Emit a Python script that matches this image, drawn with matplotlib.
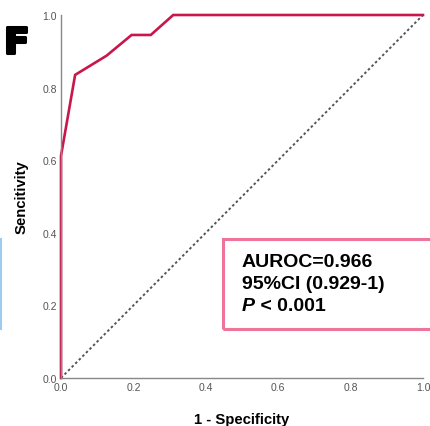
import matplotlib
matplotlib.use("Agg")
import matplotlib.pyplot as plt
import matplotlib.patheffects as pe
from matplotlib.patches import Rectangle
from matplotlib.lines import Line2D

plt.rcParams['font.family'] = ['Liberation Sans', 'DejaVu Sans']

# ROC curve points
fpr = [0.0, 0.0, 0.039, 0.126, 0.195, 0.248, 0.31, 1.0]
tpr = [0.0, 0.612, 0.835, 0.888, 0.945, 0.945, 1.0, 1.0]

ticks = [0.0, 0.2, 0.4, 0.6, 0.8, 1.0]
tick_labels = ["0.0", "0.2", "0.4", "0.6", "0.8", "1.0"]

auroc_text = "AUROC=0.966"
ci_text = "95%CI (0.929-1)"
p_text = " < 0.001"

fig = plt.figure(figsize=(4.30, 4.27), dpi=100)
ax = fig.add_axes([61/430, 1 - 379/427, 362/430, 363/427])

ax.plot([0, 1], [0, 1], linestyle=(0, (1.3, 1.3)), color='#555555', lw=1.4)
ax.plot(fpr, tpr, color='#c8174a', lw=1.9, solid_joinstyle='miter', clip_on=False)

ax.set_xlim(0, 1)
ax.set_ylim(0, 1)
ax.set_xticks(ticks)
ax.set_xticklabels(tick_labels)
ax.set_yticks(ticks)
ax.set_yticklabels(tick_labels)
ax.tick_params(length=0, labelsize=7.5, labelcolor='#555555', pad=3)
for s in ['top', 'right']:
    ax.spines[s].set_visible(False)
for s in ['left', 'bottom']:
    ax.spines[s].set_color('#888888')
    ax.spines[s].set_linewidth(1.0)

ax.set_xlabel("1 - Specificity", fontsize=10.7, fontweight='bold', labelpad=14)
ax.set_ylabel("Sencitivity", fontsize=10.7, fontweight='bold', labelpad=10)

# panel letter
fig.text(4/430, 1 - 54/427, "F", fontsize=26, fontweight='heavy',
         family='DejaVu Sans', va='baseline', ha='left',
         path_effects=[pe.withStroke(linewidth=2.2, foreground='black')])

# fragment of neighbouring panel
fig.add_artist(Line2D([0.8/430, 0.8/430], [1 - 240/427, 1 - 330/427],
                      color='#9fcbef', lw=1.5))

# annotation box
fig.add_artist(Rectangle((223/430, 1 - 330/427), 0.6, 90/427,
                         transform=fig.transFigure, fill=False,
                         edgecolor='#ee7499', lw=2.2, clip_on=False))
fx = 242/430
fs = 14
fig.text(fx, 1 - 267/427, auroc_text, fontsize=fs, fontweight='bold', va='baseline')
fig.text(fx, 1 - 289/427, ci_text, fontsize=fs, fontweight='bold', va='baseline')
tp = fig.text(fx, 1 - 311/427, "P", fontsize=fs, fontweight='bold',
              style='italic', va='baseline')
fig.canvas.draw()
bb = tp.get_window_extent()
fig.text(bb.x1 / fig.bbox.width, 1 - 311/427, p_text, fontsize=fs,
         fontweight='bold', va='baseline')

fig.savefig("out.png", dpi=100)
